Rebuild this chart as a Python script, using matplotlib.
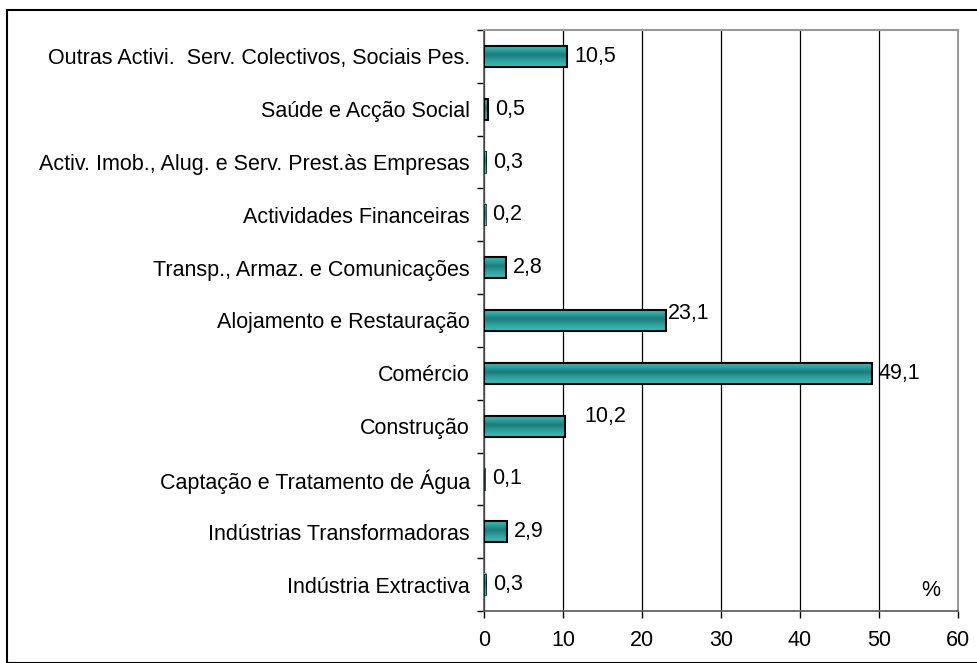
import matplotlib
matplotlib.use("Agg")
import matplotlib.pyplot as plt
import numpy as np
from matplotlib.colors import LinearSegmentedColormap
from matplotlib.patches import Rectangle
from matplotlib.ticker import FixedLocator

plt.rcParams['font.family'] = ['Liberation Sans', 'DejaVu Sans']

categories = [
    "Indústria Extractiva",
    "Indústrias Transformadoras",
    "Captação e Tratamento de Água",
    "Construção",
    "Comércio",
    "Alojamento e Restauração",
    "Transp., Armaz. e Comunicações",
    "Actividades Financeiras",
    "Activ. Imob., Alug. e Serv. Prest.às Empresas",
    "Saúde e Acção Social",
    "Outras Activi.  Serv. Colectivos, Sociais Pes.",
]
values = [0.3, 2.9, 0.1, 10.2, 49.1, 23.1, 2.8, 0.2, 0.3, 0.5, 10.5]
value_labels = ["0,3", "2,9", "0,1", "10,2", "49,1", "23,1", "2,8", "0,2", "0,3", "0,5", "10,5"]
xticks = [0, 10, 20, 30, 40, 50, 60]

FS = 15.5

fig = plt.figure(figsize=(9.78, 6.63), dpi=100)
ax = fig.add_axes([484/978, 1-611/663, (958-484)/978, (611-30)/663])

# outer frame
fig.patches.append(Rectangle((7/978, 0), 1.0, 1-10/663, transform=fig.transFigure,
                             fill=False, edgecolor='black', linewidth=1.5, clip_on=False))

cmap = LinearSegmentedColormap.from_list("teal", [
    (0.0, "#3cc0bc"), (0.35, "#2a9a98"), (0.55, "#1f7a78"), (0.8, "#2aa8a5"), (1.0, "#3ec4c0")])
grad = np.linspace(0, 1, 64).reshape(-1, 1)

h = 0.4
for i, v in enumerate(values):
    ax.imshow(grad, extent=[0, v, i + h/2, i - h/2], aspect='auto', cmap=cmap,
              interpolation='bilinear', zorder=3)
    ax.add_patch(Rectangle((0, i - h/2), v, h, fill=False, edgecolor='black',
                           linewidth=1.5 if v >= 0.5 else 0.5, zorder=4))

# value labels offsets (points)
offsets = {3: (14, 7), 5: (1, 5)}
for i, (v, lab) in enumerate(zip(values, value_labels)):
    dx, dy = offsets.get(i, (5, 0))
    ax.annotate(lab, (v, i), xytext=(dx, dy), textcoords='offset points',
                ha='left', va='center', fontsize=FS, zorder=5)

ax.set_xlim(0, 60)
ax.set_ylim(-0.5, len(categories) - 0.5)
ax.set_xticks(xticks)
ax.set_xticklabels([str(t) for t in xticks], fontsize=FS)
ax.set_yticks(range(len(categories)))
ax.set_yticklabels(categories, fontsize=FS)
ax.yaxis.set_minor_locator(FixedLocator(np.arange(-0.5, len(categories), 1.0)))
ax.tick_params(axis='y', which='major', length=0, pad=10)
ax.tick_params(axis='y', which='minor', length=5, width=1, direction='out')
ax.tick_params(axis='x', which='major', length=5, width=1, direction='out', pad=9)

ax.grid(axis='x', color='black', linewidth=0.9, zorder=1)
ax.set_axisbelow(True)

for s in ['top', 'right']:
    ax.spines[s].set_color('#999999')
    ax.spines[s].set_linewidth(1.5)
ax.spines['left'].set_color('#555555')
ax.spines['bottom'].set_color('#555555')
ax.spines['left'].set_linewidth(1.2)
ax.spines['bottom'].set_linewidth(1.2)

ax.text(0.963, 0.018, "%", transform=ax.transAxes, ha='right', va='bottom', fontsize=FS)

fig.savefig("out.png", dpi=100)
